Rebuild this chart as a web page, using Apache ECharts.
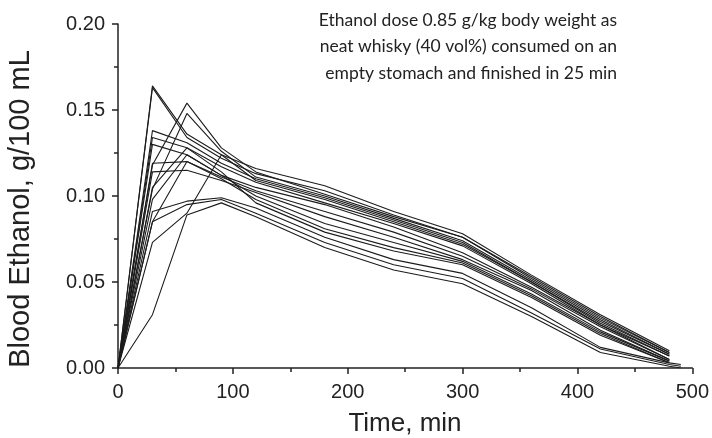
<!DOCTYPE html>
<html>
<head>
<meta charset="utf-8">
<script src="https://cdn.jsdelivr.net/npm/echarts@6/dist/echarts.min.js"></script>
<style>
html, body { margin: 0; padding: 0; background: #fff; }
#chart { width: 712px; height: 438px; }
</style>
</head>
<body>
<div id="chart"></div>
<script>
// sampling times (min)
var times = [0, 30, 60, 90, 120, 180, 240, 300, 360, 420, 480, 490];

// blood ethanol (g/100 mL), one array per subject
// upper bundle
var s1  = [0, 0.164, 0.136, 0.124, 0.116, 0.106, 0.091, 0.078, 0.054, 0.031, 0.010];
var s2  = [0, 0.163, 0.134, 0.122, 0.113, 0.103, 0.089, 0.076, 0.053, 0.030, 0.009];
var s3  = [0, 0.118, 0.154, 0.128, 0.114, 0.101, 0.088, 0.076, 0.052, 0.029, 0.009];
var s4  = [0, 0.104, 0.148, 0.126, 0.111, 0.100, 0.087, 0.074, 0.051, 0.028, 0.008];
var s5  = [0, 0.138, 0.131, 0.119, 0.110, 0.099, 0.086, 0.073, 0.050, 0.027, 0.008];
var s6  = [0, 0.073, 0.090, 0.124, 0.109, 0.098, 0.085, 0.072, 0.050, 0.026, 0.007];
var s7  = [0, 0.134, 0.128, 0.117, 0.108, 0.096, 0.084, 0.071, 0.049, 0.025, 0.007];
// middle bundle
var s8  = [0, 0.130, 0.124, 0.112, 0.105, 0.095, 0.082, 0.067, 0.047, 0.025, 0.005];
var s9  = [0, 0.119, 0.120, 0.111, 0.103, 0.091, 0.079, 0.065, 0.046, 0.024, 0.005];
var s10 = [0, 0.114, 0.115, 0.109, 0.102, 0.088, 0.076, 0.063, 0.045, 0.022, 0.004];
var s11 = [0, 0.098, 0.124, 0.112, 0.100, 0.084, 0.073, 0.062, 0.043, 0.021, 0.004];
var s12 = [0, 0.085, 0.120, 0.110, 0.098, 0.081, 0.070, 0.061, 0.042, 0.020, 0.003];
var s13 = [0, 0.105, 0.128, 0.114, 0.096, 0.079, 0.068, 0.060, 0.041, 0.019, 0.003];
// lower bundle
var s14 = [0, 0.091, 0.097, 0.099, 0.093, 0.076, 0.063, 0.055, 0.035, 0.012, 0.003, 0.002];
var s15 = [0, 0.085, 0.095, 0.098, 0.090, 0.073, 0.060, 0.052, 0.032, 0.011, 0.002, 0.001];
var s16 = [0, 0.031, 0.089, 0.096, 0.088, 0.070, 0.057, 0.049, 0.030, 0.009, 0.001, 0.000];

var subjects = [s1, s2, s3, s4, s5, s6, s7, s8, s9, s10, s11, s12, s13, s14, s15, s16];

var xTicks = [0, 100, 200, 300, 400, 500];
var yTicks = [0, 0.05, 0.10, 0.15, 0.20];

var noteLines = [
	'Ethanol dose 0.85 g/kg body weight as',
	'neat whisky (40 vol%) consumed on an',
	'empty stomach and finished in 25 min'
];

var myChart = echarts.init(document.getElementById('chart'));

var seriesList = [];
for (var i = 0; i < subjects.length; i++) {
	var pts = [];
	for (var j = 0; j < subjects[i].length; j++) {
		pts.push([times[j], subjects[i][j]]);
	}
	seriesList.push({
		name: 'subject ' + (i + 1),
		type: 'line',
		data: pts,
		symbol: 'none',
		silent: true,
		lineStyle: { color: '#1c1c1c', width: 1.1 }
	});
}

var axisColor = '#222';
var noteText = [];
for (var k = 0; k < noteLines.length; k++) {
	noteText.push({
		type: 'text',
		right: 95,
		top: 11 + k * 26.5,
		style: {
			text: noteLines[k],
			font: '17.5px Lato',
			fill: '#222',
			textAlign: 'right'
		}
	});
}

var option = {
	animation: false,
	grid: { left: 118, right: 19, top: 24, bottom: 70 },
	xAxis: {
		type: 'value',
		min: xTicks[0],
		max: xTicks[xTicks.length - 1],
		interval: 100,
		splitLine: { show: false },
		axisLine: { lineStyle: { color: axisColor, width: 1.5 } },
		axisTick: { length: 6, lineStyle: { color: axisColor, width: 1.5 } },
		minorTick: { show: true, splitNumber: 2, length: 4, lineStyle: { color: axisColor, width: 1.5 } },
		axisLabel: { color: axisColor, fontFamily: 'Liberation Sans', fontSize: 20, margin: 14 }
	},
	yAxis: {
		type: 'value',
		min: yTicks[0],
		max: yTicks[yTicks.length - 1],
		interval: 0.05,
		splitLine: { show: false },
		axisLine: { show: true, lineStyle: { color: axisColor, width: 1.5 } },
		axisTick: { show: true, length: 6, lineStyle: { color: axisColor, width: 1.5 } },
		minorTick: { show: true, splitNumber: 2, length: 4, lineStyle: { color: axisColor, width: 1.5 } },
		axisLabel: {
			color: axisColor, fontFamily: 'Liberation Sans', fontSize: 20, margin: 13,
			formatter: function (v) { return v.toFixed(2); }
		}
	},
	graphic: noteText.concat([
		{
			type: 'text',
			x: 6,
			y: 209,
			rotation: Math.PI / 2,
			style: {
				text: 'Blood Ethanol, g/100 mL',
				font: '29px Liberation Sans',
				fill: '#222',
				textAlign: 'center',
				textVerticalAlign: 'top'
			}
		},
		{
			type: 'text',
			x: 405,
			y: 424,
			style: {
				text: 'Time, min',
				font: '26px Liberation Sans',
				fill: '#222',
				textAlign: 'center',
				textVerticalAlign: 'middle'
			}
		}
	]),
	series: seriesList
};

myChart.setOption(option);
</script>
</body>
</html>
